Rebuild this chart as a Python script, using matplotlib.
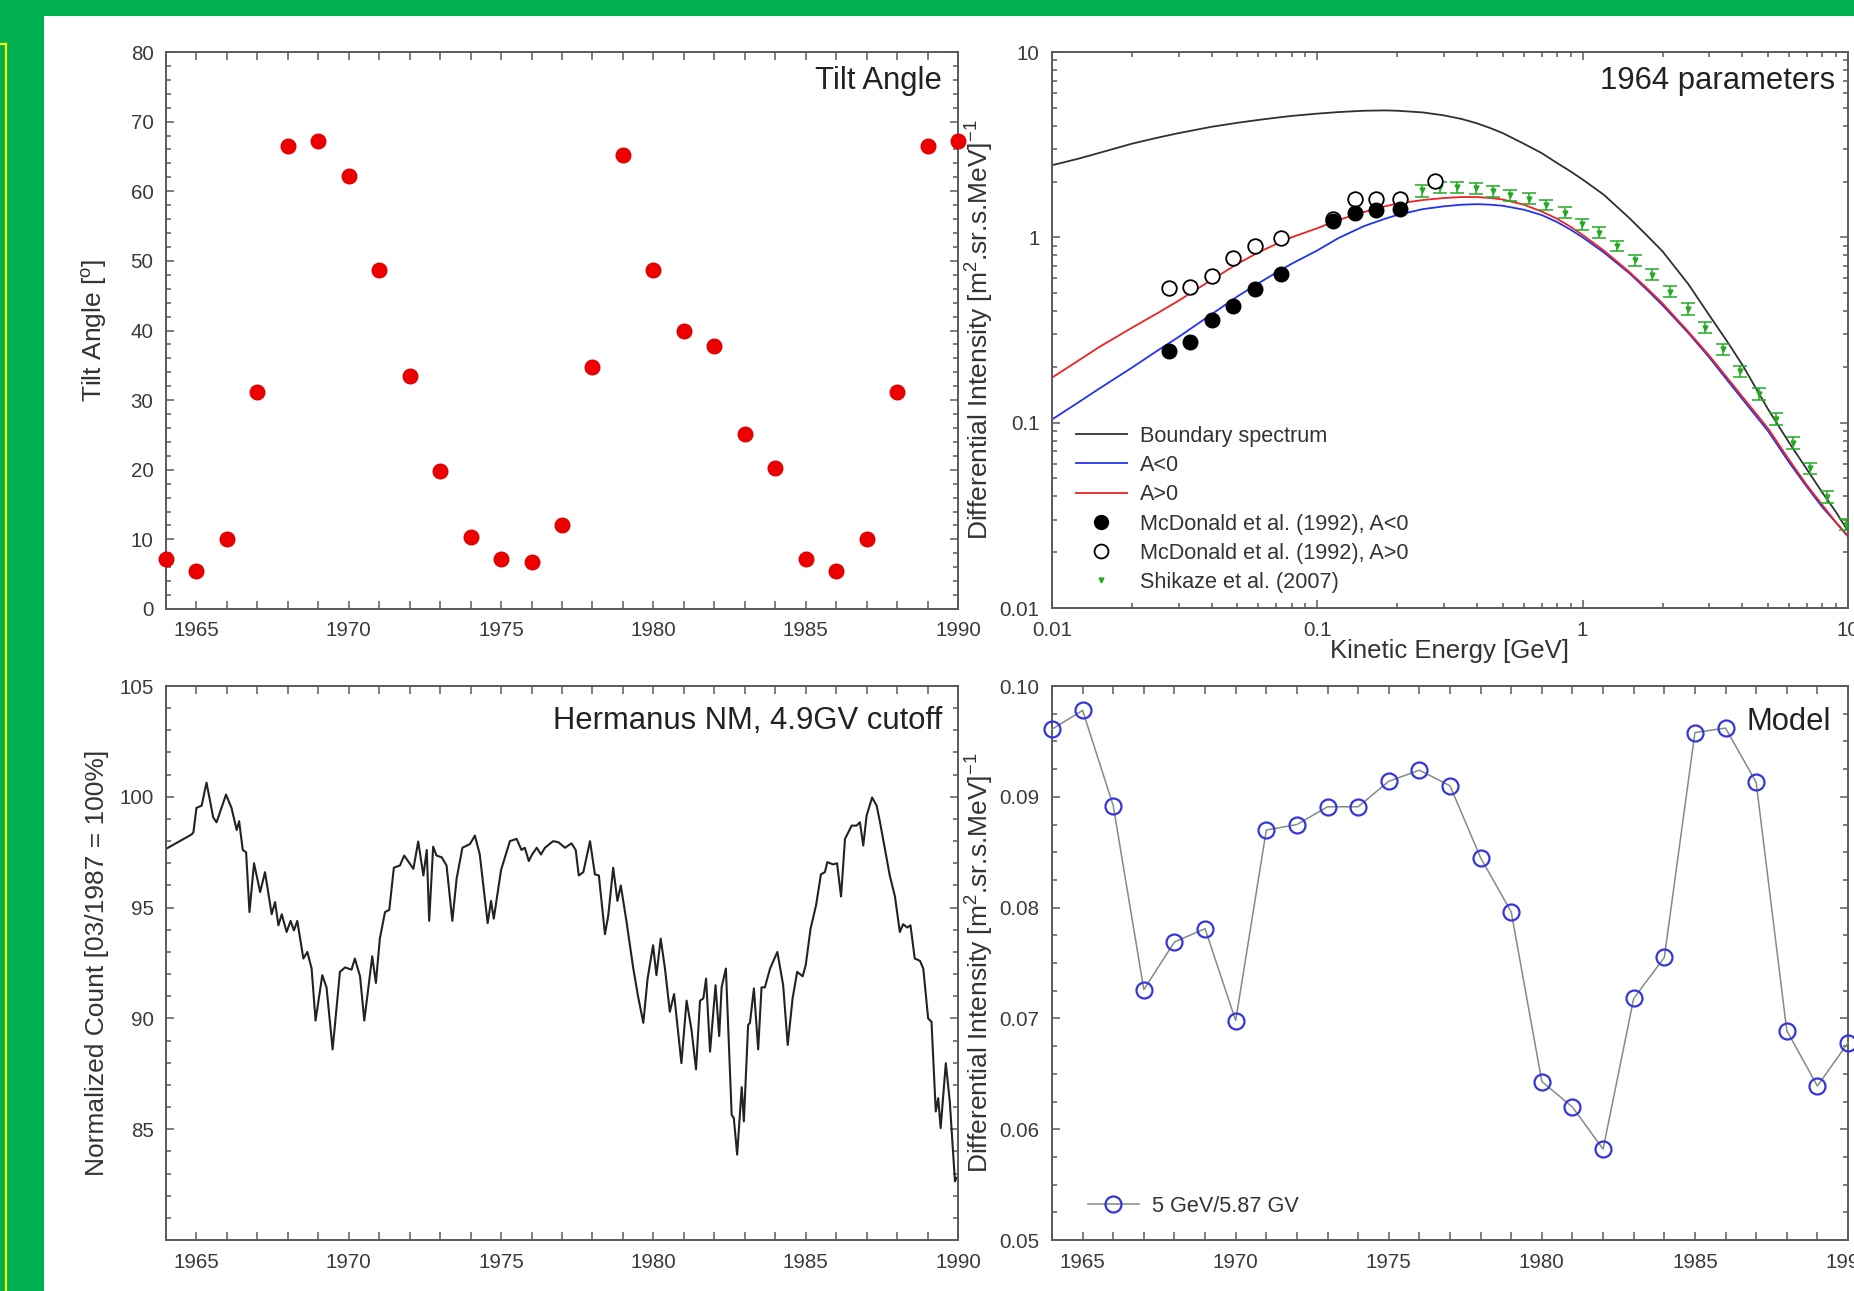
import numpy as np
import matplotlib
matplotlib.use("Agg")
import matplotlib.pyplot as plt
from matplotlib.patches import Rectangle
from matplotlib.lines import Line2D
from matplotlib.ticker import MultipleLocator, LogLocator, NullFormatter, FuncFormatter, FormatStrFormatter

plt.rcParams['font.family'] = ['Liberation Sans', 'DejaVu Sans']
plt.rcParams['mathtext.fontset'] = 'custom'
plt.rcParams['mathtext.rm'] = 'Liberation Sans'
plt.rcParams['mathtext.it'] = 'Liberation Sans:italic'

## Data

years = np.arange(1964, 1991)

# tilt angle [deg], one value per year
tilt = [7.2, 5.5, 10.0, 31.2, 66.5, 67.2, 62.2, 48.7, 33.5, 19.8, 10.4, 7.2, 6.7,
        12.0, 34.8, 65.2, 48.7, 40.0, 37.8, 25.2, 20.3, 7.2, 5.5, 10.0, 31.2, 66.5, 67.2]

# model intensity at 5 GeV, one value per year
model_5gev = [0.0961, 0.0978, 0.0892, 0.0726, 0.0769, 0.0781, 0.0698, 0.0870, 0.0875,
              0.0891, 0.0891, 0.0914, 0.0924, 0.0910, 0.0845, 0.0796, 0.0643, 0.0620,
              0.0582, 0.0718, 0.0755, 0.0958, 0.0962, 0.0913, 0.0689, 0.0639, 0.0678]

# Hermanus neutron monitor, normalized count
nm_year = [1964.00, 1964.84, 1964.90, 1965.00, 1965.17, 1965.33, 1965.55, 1965.66, 1965.97,
           1966.15, 1966.32, 1966.40, 1966.52, 1966.63, 1966.74, 1966.89, 1967.09, 1967.25,
           1967.47, 1967.58, 1967.69, 1967.80, 1967.96, 1968.09, 1968.20, 1968.31, 1968.51,
           1968.64, 1968.78, 1968.91, 1969.13, 1969.27, 1969.47, 1969.71, 1969.88, 1970.09,
           1970.20, 1970.37, 1970.51, 1970.77, 1970.89, 1971.02, 1971.19, 1971.33, 1971.48,
           1971.68, 1971.82, 1972.12, 1972.28, 1972.45, 1972.56, 1972.64, 1972.77, 1972.88,
           1973.05, 1973.21, 1973.40, 1973.54, 1973.73, 1973.98, 1974.14, 1974.30, 1974.56,
           1974.67, 1974.76, 1975.00, 1975.29, 1975.51, 1975.67, 1975.78, 1975.91, 1976.02,
           1976.17, 1976.31, 1976.44, 1976.71, 1976.88, 1977.10, 1977.31, 1977.45, 1977.55,
           1977.70, 1977.92, 1978.08, 1978.21, 1978.41, 1978.52, 1978.68, 1978.82, 1978.93,
           1979.12, 1979.34, 1979.50, 1979.67, 1979.81, 1979.99, 1980.10, 1980.24, 1980.38,
           1980.54, 1980.68, 1980.92, 1981.09, 1981.25, 1981.40, 1981.53, 1981.64, 1981.73,
           1981.86, 1982.04, 1982.16, 1982.24, 1982.38, 1982.57, 1982.64, 1982.75, 1982.90,
           1982.97, 1983.11, 1983.17, 1983.30, 1983.44, 1983.55, 1983.66, 1983.83, 1984.07,
           1984.26, 1984.41, 1984.57, 1984.72, 1984.90, 1985.00, 1985.16, 1985.34, 1985.50,
           1985.63, 1985.71, 1985.90, 1986.03, 1986.16, 1986.29, 1986.51, 1986.67, 1986.78,
           1986.89, 1987.00, 1987.18, 1987.33, 1987.44, 1987.60, 1987.76, 1987.93, 1988.09,
           1988.20, 1988.33, 1988.44, 1988.58, 1988.75, 1988.86, 1989.02, 1989.13, 1989.27,
           1989.35, 1989.43, 1989.60, 1989.73, 1989.90, 1989.95]
nm_count = [97.65, 98.30, 98.40, 99.50, 99.60, 100.64, 99.07, 98.85, 100.10,
            99.50, 98.50, 98.90, 97.60, 97.50, 94.80, 97.00, 95.70, 96.60,
            94.70, 95.25, 94.20, 94.70, 93.90, 94.40, 93.97, 94.40, 92.70,
            93.00, 92.25, 89.90, 91.95, 91.40, 88.60, 92.10, 92.30, 92.20,
            92.70, 91.90, 89.90, 92.80, 91.60, 93.60, 94.80, 94.90, 96.80,
            96.90, 97.35, 96.75, 97.98, 96.45, 97.60, 94.40, 97.75, 97.35,
            97.27, 96.90, 94.40, 96.30, 97.70, 97.87, 98.25, 97.40, 94.30,
            95.30, 94.50, 96.70, 98.00, 98.10, 97.60, 97.70, 97.10, 97.40,
            97.70, 97.40, 97.70, 98.00, 97.95, 97.70, 97.90, 97.60, 96.45,
            96.60, 98.00, 96.50, 96.45, 93.80, 94.65, 96.80, 95.30, 96.00,
            94.35, 92.25, 90.97, 89.80, 91.80, 93.30, 91.95, 93.60, 92.25,
            90.30, 91.10, 87.98, 90.80, 89.50, 87.70, 90.80, 90.90, 91.80,
            88.50, 91.50, 89.20, 91.40, 92.25, 85.65, 85.50, 83.85, 86.90,
            85.35, 89.70, 89.80, 91.35, 88.60, 91.40, 91.40, 92.25, 93.00,
            91.50, 88.80, 90.90, 92.10, 91.90, 92.40, 94.05, 95.10, 96.50,
            96.60, 97.05, 96.95, 97.00, 95.50, 98.10, 98.70, 98.70, 98.85,
            97.80, 99.15, 99.97, 99.60, 98.85, 97.65, 96.45, 95.50, 93.90,
            94.25, 94.10, 94.20, 92.70, 92.60, 92.25, 90.00, 89.85, 85.80,
            86.40, 85.05, 87.98, 86.25, 82.65, 82.80]

# spectra vs kinetic energy [GeV]
energy = [0.01, 0.0125, 0.015, 0.02, 0.025, 0.03, 0.04, 0.05, 0.06, 0.07, 0.08, 0.1,
          0.12, 0.15, 0.18, 0.2, 0.25, 0.3, 0.35, 0.4, 0.45, 0.5, 0.6, 0.7, 0.8, 0.9,
          1.0, 1.2, 1.5, 1.75, 2.0, 2.5, 3.0, 3.5, 4.0, 5.0, 6.0, 7.0, 8.0, 9.0, 10.0]
boundary = [2.45, 2.65, 2.85, 3.2, 3.45, 3.65, 3.95, 4.15, 4.3, 4.42, 4.52, 4.65,
            4.74, 4.82, 4.84, 4.82, 4.72, 4.55, 4.35, 4.12, 3.88, 3.65, 3.2, 2.85, 2.52, 2.27,
            2.05, 1.7, 1.27, 1.02, 0.84, 0.56, 0.38, 0.275, 0.205, 0.118, 0.078, 0.056, 0.042, 0.033, 0.026]
a_neg = [0.104, 0.128, 0.152, 0.198, 0.245, 0.29, 0.385, 0.48, 0.565, 0.645, 0.72, 0.85,
         0.99, 1.15, 1.26, 1.32, 1.42, 1.47, 1.5, 1.51, 1.5, 1.48, 1.41, 1.32, 1.21, 1.1,
         1.0, 0.83, 0.64, 0.52, 0.43, 0.305, 0.225, 0.17, 0.134, 0.09, 0.061, 0.045, 0.035, 0.029, 0.0243]
a_pos = [0.175, 0.215, 0.255, 0.325, 0.39, 0.455, 0.59, 0.72, 0.83, 0.92, 1.0, 1.12,
         1.24, 1.37, 1.47, 1.52, 1.59, 1.63, 1.65, 1.65, 1.63, 1.6, 1.5, 1.38, 1.26, 1.14,
         1.03, 0.85, 0.65, 0.53, 0.44, 0.31, 0.23, 0.175, 0.138, 0.093, 0.063, 0.046, 0.036, 0.029, 0.0245]

# McDonald et al. (1992)
mcd_e_neg = [0.0275, 0.033, 0.040, 0.048, 0.058, 0.073, 0.115, 0.139, 0.167, 0.205]
mcd_neg = [0.244, 0.271, 0.358, 0.428, 0.525, 0.637, 1.22, 1.35, 1.41, 1.43]
mcd_e_pos = [0.0275, 0.033, 0.040, 0.048, 0.058, 0.073, 0.115, 0.139, 0.167, 0.205, 0.278]
mcd_pos = [0.533, 0.54, 0.618, 0.771, 0.893, 0.99, 1.25, 1.61, 1.61, 1.61, 2.01]

# Shikaze et al. (2007)
shk_e = [0.248, 0.290, 0.336, 0.395, 0.459, 0.532, 0.627, 0.727, 0.855, 0.99, 1.15, 1.35,
         1.57, 1.82, 2.14, 2.49, 2.88, 3.39, 3.93, 4.63, 5.37, 6.23, 7.22, 8.37, 9.85]
shk_flux = [1.79, 1.87, 1.87, 1.84, 1.78, 1.69, 1.62, 1.50, 1.36, 1.18, 1.06, 0.90,
            0.75, 0.63, 0.51, 0.41, 0.326, 0.249, 0.19, 0.143, 0.105, 0.078, 0.0567, 0.0397, 0.0282]
shk_err = [0.13, 0.13, 0.13, 0.13, 0.12, 0.12, 0.11, 0.10, 0.09, 0.08, 0.07, 0.06,
           0.05, 0.045, 0.035, 0.03, 0.023, 0.018, 0.013, 0.01, 0.0075, 0.0055, 0.004, 0.003, 0.002]

## Figure
W, H = 1854, 1291
fig = plt.figure(figsize=(W / 100, H / 100), dpi=100)
fig.patch.set_facecolor('#00B050')
fig.add_artist(Rectangle((44 / W, 0), 1 - 44 / W, 1 - 16 / H, transform=fig.transFigure,
                         facecolor='white', edgecolor='none', zorder=0))
fig.add_artist(Line2D([6 / W, 6 / W], [0, 1 - 44 / H], transform=fig.transFigure, color='#FFFF00', lw=1.6))
fig.add_artist(Line2D([0, 6 / W], [1 - 44 / H, 1 - 44 / H], transform=fig.transFigure, color='#FFFF00', lw=1.6))

LABEL_FS = 19
NOTE_FS = 22.3
LEG_FS = 15.6
TXT = '#333333'


def add_ax(left, top, right, bottom):
    return fig.add_axes([left / W, 1 - bottom / H, (right - left) / W, (bottom - top) / H])


def style(ax):
    for s in ax.spines.values():
        s.set_color('#5a5a5a')
        s.set_linewidth(1.4)
    ax.tick_params(which='both', direction='in', top=True, right=True, colors='#5a5a5a',
                   labelcolor='#3a3a3a', labelsize=14.8, width=1.1, pad=9)
    ax.tick_params(which='major', length=6)
    ax.tick_params(which='minor', length=3.5)


ax1 = add_ax(166, 52, 958, 609)
ax2 = add_ax(1052, 52, 1848, 608)
ax3 = add_ax(166, 686, 958, 1240)
ax4 = add_ax(1052, 686, 1848, 1240)

# Tilt angle
style(ax1)
ax1.plot(years, tilt, 'o', color='#ee0000', ms=10.5, mec='#dd0000', clip_on=False, zorder=3)
ax1.set_xlim(1964, 1990)
ax1.set_ylim(0, 80)
ax1.xaxis.set_major_locator(MultipleLocator(5))
ax1.xaxis.set_minor_locator(MultipleLocator(1))
ax1.yaxis.set_major_locator(MultipleLocator(10))
ax1.yaxis.set_minor_locator(MultipleLocator(2))
ax1.tick_params(axis='x', which='minor', length=6)
ax1.set_ylabel('Tilt Angle [$^{\\mathrm{o}}$]', fontsize=LABEL_FS, color=TXT)
ax1.yaxis.set_label_coords(-0.072, 0.5)
ax1.text(0.98, 0.975, 'Tilt Angle', transform=ax1.transAxes, ha='right', va='top',
         fontsize=NOTE_FS, color='#222222')

# Spectra
style(ax2)
ax2.set_xscale('log')
ax2.set_yscale('log')
ax2.plot(energy, boundary, color='#303030', lw=1.3)
ax2.plot(energy, a_neg, color='#2233ee', lw=1.3)
ax2.plot(energy, a_pos, color='#ee2222', lw=1.3)
ax2.errorbar(shk_e, shk_flux, yerr=shk_err, fmt='v', ms=3.5, color='#22aa22', ecolor='#22aa22',
             elinewidth=1.1, capsize=5, capthick=1.1, zorder=3)
ax2.plot(mcd_e_pos, mcd_pos, 'o', ms=10.5, mfc='white', mec='black', mew=1.3, zorder=4)
ax2.plot(mcd_e_neg, mcd_neg, 'o', ms=10.5, color='black', zorder=5)
ax2.set_xlim(0.01, 10)
ax2.set_ylim(0.01, 10)
for axis in (ax2.xaxis, ax2.yaxis):
    axis.set_major_locator(LogLocator(base=10))
    axis.set_minor_locator(LogLocator(base=10, subs=np.arange(2, 10)))
    axis.set_minor_formatter(NullFormatter())
    axis.set_major_formatter(FuncFormatter(lambda v, p: f'{v:g}'))
ax2.set_xlabel('Kinetic Energy [GeV]', fontsize=18.5, color=TXT)
ax2.xaxis.set_label_coords(0.5, -0.056)
ax2.set_ylabel('Differential Intensity [m$^{2}$.sr.s.MeV]$^{-1}$', fontsize=LABEL_FS, color=TXT)
ax2.yaxis.set_label_coords(-0.07, 0.5)
ax2.text(0.984, 0.975, '1964 parameters', transform=ax2.transAxes, ha='right', va='top',
         fontsize=NOTE_FS, color='#222222')
handles = [Line2D([], [], color='#303030', lw=1.3),
           Line2D([], [], color='#2233ee', lw=1.3),
           Line2D([], [], color='#ee2222', lw=1.3),
           Line2D([], [], marker='o', ls='none', ms=10, color='black'),
           Line2D([], [], marker='o', ls='none', ms=10, mfc='white', mec='black', mew=1.3),
           Line2D([], [], marker='v', ls='none', ms=3.5, color='#22aa22')]
labels = ['Boundary spectrum', 'A<0', 'A>0', 'McDonald et al. (1992), A<0',
          'McDonald et al. (1992), A>0', 'Shikaze et al. (2007)']
ax2.legend(handles, labels, loc='lower left', bbox_to_anchor=(0.03, 0.027), frameon=False,
           fontsize=LEG_FS, handlelength=2.35, handletextpad=0.6, labelspacing=0.38,
           borderpad=0, borderaxespad=0, labelcolor=TXT)

# Neutron monitor
style(ax3)
ax3.plot(nm_year, nm_count, color='#222222', lw=1.5)
ax3.set_xlim(1964, 1990)
ax3.set_ylim(80, 105)
ax3.xaxis.set_major_locator(MultipleLocator(5))
ax3.xaxis.set_minor_locator(MultipleLocator(1))
ax3.yaxis.set_minor_locator(MultipleLocator(1))
ax3.set_yticks([85, 90, 95, 100, 105])
ax3.tick_params(axis='x', which='minor', length=6)
ax3.set_ylabel('Normalized Count [03/1987 = 100%]', fontsize=LABEL_FS, color=TXT)
ax3.yaxis.set_label_coords(-0.072, 0.5)
ax3.text(0.98, 0.964, 'Hermanus NM, 4.9GV cutoff', transform=ax3.transAxes, ha='right', va='top',
         fontsize=NOTE_FS, color='#222222')

# Model
style(ax4)
ax4.plot(years, model_5gev, '-o', color='#888888', lw=1.1, ms=11.5, mfc='none', mec='#3535d8',
         mew=1.6, clip_on=False, zorder=3, label='5 GeV/5.87 GV')
ax4.set_xlim(1964, 1990)
ax4.set_ylim(0.05, 0.10)
ax4.xaxis.set_major_locator(MultipleLocator(5))
ax4.xaxis.set_minor_locator(MultipleLocator(1))
ax4.yaxis.set_major_locator(MultipleLocator(0.01))
ax4.yaxis.set_minor_locator(MultipleLocator(0.0025))
ax4.yaxis.set_major_formatter(FormatStrFormatter('%.2f'))
ax4.tick_params(axis='x', which='minor', length=6)
ax4.set_ylabel('Differential Intensity [m$^{2}$.sr.s.MeV]$^{-1}$', fontsize=LABEL_FS, color=TXT)
ax4.yaxis.set_label_coords(-0.07, 0.5)
ax4.text(0.979, 0.962, 'Model', transform=ax4.transAxes, ha='right', va='top',
         fontsize=NOTE_FS, color='#222222')
ax4.legend(loc='lower left', bbox_to_anchor=(0.045, 0.042), frameon=False, fontsize=LEG_FS,
           handlelength=2.35, handletextpad=0.6, borderpad=0, borderaxespad=0, labelcolor=TXT)

fig.savefig('out.png', dpi=100, facecolor=fig.get_facecolor())
